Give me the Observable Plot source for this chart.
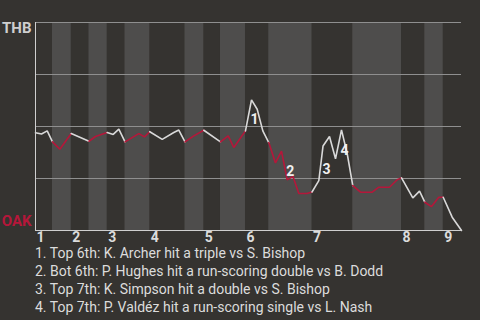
<!DOCTYPE html>
<html>
<head>
<meta charset="utf-8">
<script src="https://cdn.jsdelivr.net/npm/d3@7"></script>
<script src="https://cdn.jsdelivr.net/npm/@observablehq/plot@0.6"></script>
<style>
  html, body { margin: 0; padding: 0; background: #353330; }
  body { width: 480px; height: 320px; overflow: hidden; font-family: Roboto, sans-serif; }
  #notes { color: #dcdcdc; font-size: 14px; line-height: 18px; padding-left: 35px; white-space: nowrap; }
</style>
</head>
<body>
<div id="chart"></div>
<div id="notes"></div>
<script>
// Play sequence (play index), win probability for THB, and half-inning (0 = Top 1st, 1 = Bot 1st, ...)
const play = [0, 1.06, 2.06, 2.99, 4.28, 6.29, 9.42, 10.56, 12.62, 13.68, 14.67, 15.76, 18.19, 19.19, 20.12,
  22.31, 24.35, 25.23, 26.32, 27.87, 29.63, 32.57, 33.93, 34.91, 36.97, 38.03, 39.03, 40.02, 41.07,
  42.25, 43.31, 44.31, 45.33, 46.36, 47.8, 48.68, 49.88, 50.62, 51.76, 52.82, 53.87, 54.88, 55.86,
  57.22, 59.28, 60.44, 62.32, 63.68, 64.44, 66.43, 67.61, 68.54, 69.72, 71.0, 71.78, 73.36, 75];
const winProb = [0.470, 0.464, 0.479, 0.426, 0.391, 0.466, 0.429, 0.452, 0.471, 0.462, 0.487, 0.426, 0.466, 0.450, 0.475,
  0.438, 0.471, 0.483, 0.426, 0.455, 0.482, 0.426, 0.455, 0.399, 0.479, 0.628, 0.583, 0.479, 0.423,
  0.325, 0.382, 0.244, 0.260, 0.178, 0.178, 0.185, 0.240, 0.406, 0.452, 0.345, 0.484, 0.369, 0.216,
  0.184, 0.184, 0.208, 0.208, 0.244, 0.253, 0.157, 0.189, 0.136, 0.115, 0.160, 0.160, 0.064, 0];
const halfInning = [0, 0, 0, 0, 1, 1, 2, 3, 3, 4, 4, 4, 5, 5, 5,
  6, 6, 6, 6, 7, 7, 8, 9, 9, 9, 10, 10, 10, 10,
  11, 11, 11, 11, 11, 11, 11, 12, 12, 12, 12, 12, 12, 12,
  13, 13, 13, 13, 13, 13, 14, 14, 14, 15, 15, 15, 16, 16];
const innings = ["1", "2", "3", "4", "5", "6", "7", "8", "9"];
const teams = ["THB", "OAK"];
const highlightPlay = [25, 31, 37, 40];  // index in play sequence
const highlightLabel = ["1", "2", "3", "4"];
const notes = [
  "1. Top 6th: K. Archer hit a triple vs S. Bishop",
  "2. Bot 6th: P. Hughes hit a run-scoring double vs B. Dodd",
  "3. Top 7th: K. Simpson hit a double vs S. Bishop",
  "4. Top 7th: P. Valdéz hit a run-scoring single vs L. Nash"
];

const WHITE = "#d9d9d9", RED = "#b5173a";

// One path per half-inning, starting from the last play of the previous half-inning
const paths = [];
for (let i = 0; i < play.length; i++) {
  const h = halfInning[i];
  if (i > 0 && halfInning[i] !== halfInning[i - 1]) {
    paths.push({x: play[i - 1], y: winProb[i - 1], h});
  }
  paths.push({x: play[i], y: winProb[i], h});
}
// Half-inning extents
const lastOf = d3.rollup(d3.range(play.length), v => play[d3.max(v)], i => halfInning[i]);
const halves = d3.sort([...lastOf.keys()]).map(h => ({h, x1: h === 0 ? play[0] : lastOf.get(h - 1), x2: lastOf.get(h)}));
const bottoms = halves.filter(d => d.h % 2 === 1);
const tops = halves.filter(d => d.h % 2 === 0).map((d, i) => ({...d, label: innings[i]}));

const labelOffsets = [[3, 20], [3, -8], [3.5, 23], [3, 21]];
const ann = highlightPlay.map((p, i) => ({x: play[p], y: winProb[p], label: highlightLabel[i], dx: labelOffsets[i][0], dy: labelOffsets[i][1]}));

const chart = Plot.plot({
  width: 480,
  height: 244,
  marginLeft: 35,
  marginRight: 19,
  marginTop: 22,
  marginBottom: 14,
  style: {background: "transparent", fontFamily: "Roboto, sans-serif", color: "#dcdcdc"},
  x: {domain: [0, 75], axis: null},
  y: {domain: [0, 1], axis: null},
  marks: [
    Plot.rect(bottoms, {x1: "x1", x2: "x2", y1: 0, y2: 1, fill: "#4e4d4c"}),
    Plot.ruleY([0.25, 0.5, 0.75, 1], {stroke: "#8f8f8f", strokeWidth: 1}),
    Plot.line(paths, {x: "x", y: "y", z: "h", stroke: d => d.h % 2 === 1 ? RED : WHITE, strokeWidth: 1.6, strokeLinejoin: "miter", curve: "linear"}),
    Plot.ruleY([0], {stroke: "#cfcfcf", strokeWidth: 1}),
    Plot.ruleX([0], {stroke: "#cfcfcf", strokeWidth: 1}),
    ...ann.map(a => Plot.text([a], {x: "x", y: "y", text: "label", dx: a.dx, dy: a.dy, fill: "#f0f0f0", fontSize: 14, fontWeight: "bold", textAnchor: "middle", lineAnchor: "middle"})),
    Plot.text(tops, {x: "x1", y: 0, text: "label", fill: "#dcdcdc", fontSize: 14, fontWeight: "bold", textAnchor: "start", lineAnchor: "top", dx: 1, dy: 1.5}),
    Plot.text([teams[0]], {frameAnchor: "top-left", text: d => d, dx: -4, textAnchor: "end", lineAnchor: "top", fill: "#cfcfcf", fontSize: 15, fontWeight: "bold"}),
    Plot.text([teams[1]], {frameAnchor: "bottom-left", text: d => d, dx: -4, dy: -5, textAnchor: "end", lineAnchor: "bottom", fill: RED, fontSize: 15, fontWeight: "bold"})
  ]
});
document.getElementById("chart").appendChild(chart);
document.getElementById("notes").innerHTML = notes.map(n => `<div>${n}</div>`).join("");
</script>
</body>
</html>
